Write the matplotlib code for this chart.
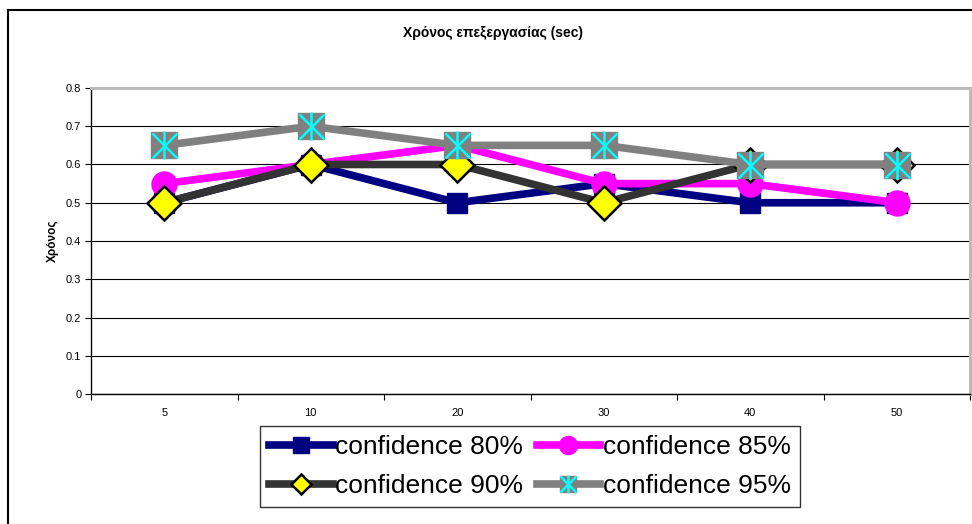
import matplotlib
matplotlib.use("Agg")
import matplotlib.pyplot as plt
from matplotlib.lines import Line2D
import numpy as np

plt.rcParams['font.family'] = ['Liberation Sans', 'DejaVu Sans']

categories = ['5', '10', '20', '30', '40', '50']
conf80 = [0.50, 0.60, 0.50, 0.55, 0.50, 0.50]
conf85 = [0.55, 0.60, 0.65, 0.55, 0.55, 0.50]
conf90 = [0.50, 0.60, 0.60, 0.50, 0.60, 0.60]
conf95 = [0.65, 0.70, 0.65, 0.65, 0.60, 0.60]
labels = ['confidence 80%', 'confidence 85%', 'confidence 90%', 'confidence 95%']

fig = plt.figure(figsize=(9.72, 5.24), dpi=100)
ax = fig.add_axes([91/972, 1-394/524, (970-91)/972, (394-88)/524])

x = np.arange(len(categories))
lw = 5.5

styles = [
    dict(color='#000080', marker='s', mfc='#000080', mec='#000080', mew=1.0),
    dict(color='#FF00FF', marker='o', mfc='#FF00FF', mec='#FF00FF', mew=1.0),
    dict(color='#333333', marker='D', mfc='#FFFF00', mec='black', mew=1.8),
    dict(color='#808080', marker='s', mfc='#808080', mec='#808080', mew=1.0),
]
plot_ms = [14.5, 18, 17, 19]
legend_ms = [12, 13, 10, 12]

series = [conf80, conf85, conf90, conf95]
for i, (vals, st, ms) in enumerate(zip(series, styles, plot_ms)):
    ax.plot(x, vals, lw=lw, ms=ms, zorder=3 + i, **st)
# cyan asterisk over the 95% squares
ax.plot(x, conf95, ls='none', marker='x', ms=18, mec='#00FFFF', mew=1.8, zorder=7)
ax.plot(x, conf95, ls='none', marker='|', ms=20, mec='#00FFFF', mew=1.8, zorder=7)

ax.set_xlim(-0.5, len(categories) - 0.5)
ax.set_ylim(0, 0.8)
ax.set_yticks(np.arange(0, 0.81, 0.1))
ax.set_yticklabels(['0', '0.1', '0.2', '0.3', '0.4', '0.5', '0.6', '0.7', '0.8'])
ax.set_xticks(x)
ax.set_xticklabels(categories)
ax.set_xticks(np.arange(-0.5, len(categories)), minor=True)
ax.tick_params(axis='x', which='major', length=0, labelsize=8, pad=10)
ax.tick_params(axis='x', which='minor', length=4, direction='out', width=0.8)
ax.tick_params(axis='y', which='major', length=4, direction='out', labelsize=8, width=0.8, pad=3)
ax.yaxis.grid(True, color='black', lw=0.8)
ax.set_axisbelow(True)

for s in ['top', 'right']:
    ax.spines[s].set_color('#BBBBBB')
    ax.spines[s].set_linewidth(2.2)
for s in ['left', 'bottom']:
    ax.spines[s].set_color('black')
    ax.spines[s].set_linewidth(1.0)

ax.set_ylabel('Χρόνος', fontsize=8.5, fontweight='bold', labelpad=5)
fig.text(493/972, 1-33/524, 'Χρόνος επεξεργασίας (sec)', ha='center', va='center',
         fontsize=10, fontweight='bold')

# legend handles with smaller markers
handles = []
for st, ms in zip(styles, legend_ms):
    handles.append(Line2D([], [], lw=lw, ms=ms, **st))
star_x = Line2D([], [], ls='none', marker='x', ms=12, mec='#00FFFF', mew=1.8)
star_v = Line2D([], [], ls='none', marker='|', ms=13, mec='#00FFFF', mew=1.8)
handles[3] = (handles[3], star_x, star_v)

# row-major order: 80 | 85 on top, 90 | 95 below
order = [0, 2, 1, 3]
leg = fig.legend([handles[i] for i in order], [labels[i] for i in order], ncol=2,
                 loc='center', bbox_to_anchor=(530/972, 1-466.5/524),
                 fontsize=19, frameon=True, fancybox=False, edgecolor='black',
                 handlelength=2.4, handletextpad=0.1, columnspacing=0.5,
                 labelspacing=0.55, borderpad=0.35)
leg.get_frame().set_linewidth(1.0)

# outer chart frame
fig.add_artist(Line2D([8/972, 8/972], [0, 1-10/524], transform=fig.transFigure,
                      color='black', lw=1.5))
fig.add_artist(Line2D([8/972, 1], [1-10/524, 1-10/524], transform=fig.transFigure,
                      color='black', lw=1.5))

fig.savefig('out.png', dpi=100, facecolor='white')
